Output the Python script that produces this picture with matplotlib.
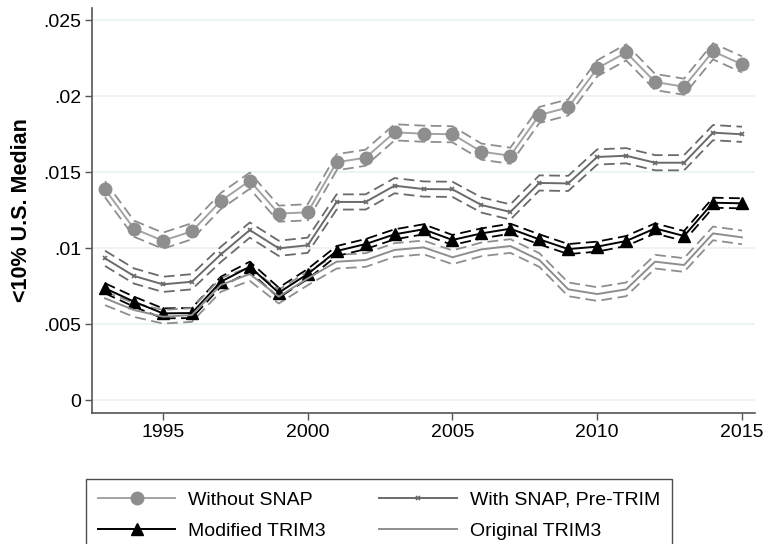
import matplotlib
matplotlib.use("Agg")
import matplotlib.pyplot as plt
from matplotlib.ticker import FuncFormatter
import numpy as np

plt.rcParams['font.family'] = ['Liberation Sans', 'DejaVu Sans']

years = list(range(1993, 2016))

without_snap = [.01386, .01127, .01048, .01110, .01309, .01443, .01226, .01235,
                .01564, .01594, .01761, .01752, .01748, .01634, .01607, .01875,
                .01925, .02182, .02287, .02092, .02061, .02294, .02208]
with_snap = [.00932, .00816, .00761, .00778, .00958, .01118, .00998, .01018,
             .01303, .01303, .01410, .01388, .01386, .01283, .01237, .01428,
             .01425, .01599, .01607, .01561, .01561, .01759, .01748]
modified_trim3 = [.00735, .00647, .00570, .00572, .00778, .00877, .00706, .00829,
                  .00980, .01026, .01090, .01123, .01053, .01096, .01127, .01057,
                  .00993, .01009, .01046, .01129, .01079, .01298, .01294]
original_trim3 = [.00669, .00592, .00548, .00559, .00757, .00829, .00680, .00800,
                  .00910, .00921, .00987, .01004, .00939, .00991, .01013, .00921,
                  .00728, .00697, .00728, .00910, .00888, .01096, .01070]

# half-widths of the confidence bands
ci_without = .00053
ci_with = .00050
ci_modified = .00033
ci_original = .00045

labels = ["Without SNAP", "With SNAP, Pre-TRIM", "Modified TRIM3", "Original TRIM3"]
yticks = [0, .005, .01, .015, .02, .025]
xticks = [1995, 2000, 2005, 2010, 2015]

fig = plt.figure(figsize=(7.64, 5.44), dpi=100)
ax = fig.add_axes([92/764, 1-413/544, (755-92)/764, (413-8)/544])

x = np.array(years)
dash = (0, (6, 3))

series = [
    (without_snap, ci_without, '#8e8e8e', '#a3a3a3', dict(marker='o', markersize=9), labels[0]),
    (with_snap, ci_with, '#6a6a6a', '#6a6a6a', dict(marker='x', markersize=3.5, markeredgewidth=1.2), labels[1]),
    (modified_trim3, ci_modified, '#000000', '#000000', dict(marker='^', markersize=8.5), labels[2]),
    (original_trim3, ci_original, '#8e8e8e', '#8e8e8e', dict(marker=None), labels[3]),
]

handles = {}
order = [3, 1, 0, 2]
for i in order:
    vals, ci, mcol, lcol, mk, lab = series[i]
    v = np.array(vals)
    ax.plot(x, v + ci, color=mcol, lw=1.3, linestyle=dash, zorder=2 + i * 0.1)
    ax.plot(x, v - ci, color=mcol, lw=1.3, linestyle=dash, zorder=2 + i * 0.1)
    h, = ax.plot(x, v, color=lcol, lw=1.4, markerfacecolor=mcol, markeredgecolor=mcol,
                 zorder=3 + i * 0.1, label=lab, **mk)
    handles[i] = h

ax.set_xlim(1992.55, 2015.45)
ax.set_ylim(-0.000855, 0.02579)
ax.set_yticks(yticks)
ax.set_xticks(xticks)

def fmt(v, pos):
    if abs(v) < 1e-12:
        return "0"
    s = ("%.3f" % v).rstrip('0')
    return s[1:] if s.startswith('0') else s

ax.yaxis.set_major_formatter(FuncFormatter(fmt))
ax.tick_params(axis='both', labelsize=14, length=5, width=1, color='#555555', pad=3)
ax.grid(axis='y', color='#eaf2f3', lw=1.2, zorder=0)
ax.set_axisbelow(True)
for s in ['top', 'right']:
    ax.spines[s].set_visible(False)
for s in ['left', 'bottom']:
    ax.spines[s].set_color('#555555')
    ax.spines[s].set_linewidth(1.2)

ax.set_ylabel("<10% U.S. Median", fontsize=15.5, fontweight='bold', labelpad=8)

leg = fig.legend([handles[0], handles[2], handles[1], handles[3]],
                 [labels[0], labels[2], labels[1], labels[3]], ncol=2,
                 loc='upper center', bbox_to_anchor=(379/764, 1-479/544),
                 fontsize=14, frameon=True, fancybox=False, edgecolor='#222222',
                 handlelength=3.97, handletextpad=0.67, columnspacing=2.75,
                 borderpad=0.62, labelspacing=0.72, borderaxespad=0)
leg.get_frame().set_linewidth(1.0)

fig.savefig("out.png", dpi=100)
